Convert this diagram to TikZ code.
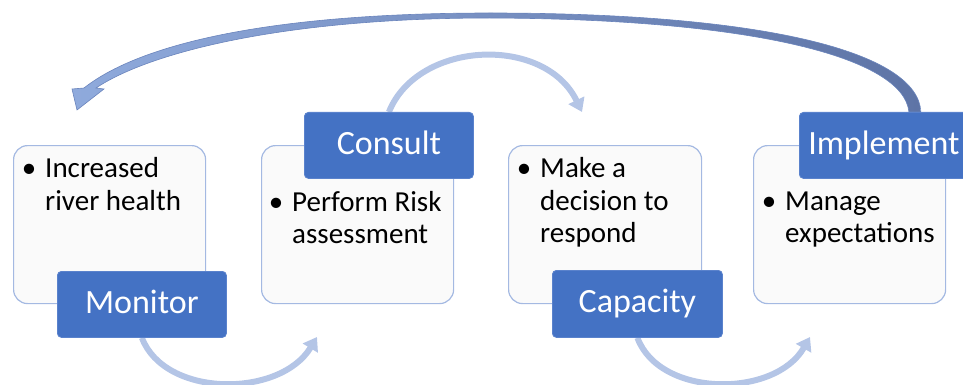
\documentclass[tikz,border=0pt]{standalone}
\usepackage{fontspec}
\setmainfont{Carlito}
\usetikzlibrary{arrows.meta}
\pgfdeclarelayer{background}
\pgfsetlayers{background,main}
\definecolor{tabblue}{HTML}{4472C4}
\definecolor{tabedge}{HTML}{5A82CC}
\definecolor{boxline}{HTML}{A4B9E2}
\definecolor{boxfill}{HTML}{FAFAFA}
\definecolor{arclight}{HTML}{B4C5E6}
\definecolor{bigleft}{HTML}{8FAADC}
\definecolor{bigright}{HTML}{5E74A6}
\definecolor{bigedge}{HTML}{6A84BC}
\begin{document}
\begin{tikzpicture}[x=1pt,y=-1pt,
  box/.style={draw=boxline, line width=1.2pt, fill=boxfill, rounded corners=14pt,
    anchor=north west, minimum width=192pt, minimum height=158pt, inner sep=0pt},
  tab/.style={draw=tabedge, line width=0.8pt, fill=tabblue, rounded corners=4pt,
    anchor=north west, minimum width=169pt, minimum height=66pt, inner sep=0pt,
    font=\fontsize{34}{40}\selectfont, text=white, text height=18pt, text depth=0pt},
  txt/.style={anchor=base west, inner sep=0pt, font=\fontsize{29}{33}\selectfont, text=black},
  bul/.style={anchor=base, inner sep=0pt, font=\fontsize{29}{33}\selectfont, text=black},
  arcarrow/.style={draw=arclight, line width=6pt,
    -{Triangle[width=17pt,length=13pt]}},
  bigarrow/.style={draw=bigedge, line width=0.6pt, left color=bigleft, right color=bigright}
]
\useasboundingbox (0,0) rectangle (963,385);

% boxes
\node[box] (box1) at (13,145) {};
\node[box] (box2) at (261,145) {};
\node[box, minimum width=193pt] (box3) at (508,145) {};
\node[box] (box4) at (753,145) {};

% tabs
\node[tab] (monitor) at (57,271) {Monitor};
\node[tab] (consult) at (304,112) {Consult};
\node[tab, minimum width=170pt, minimum height=67pt] (capacity) at (552,270) {Capacity};
\node[tab] (implement) at (799,112) {Implement};

% free ends of connectors
\coordinate (consultEnd) at (582,112);
\coordinate (monitorEnd) at (317,337);
\coordinate (capacityEnd) at (810,337);
\coordinate (bigTip) at (77,110);
\coordinate (bigStartOut) at ([xshift=37pt]implement.north);
\coordinate (bigStartIn) at ([xshift=25pt]implement.north);

\begin{pgfonlayer}{background}
% light arcs
\draw[arcarrow] (consult.north) .. controls (418,40) and (545,35) .. (consultEnd);
\draw[arcarrow] (monitor.south) .. controls (165,398) and (280,398) .. (monitorEnd);
\draw[arcarrow] (capacity.south) .. controls (660,398) and (775,398) .. (capacityEnd);
% big return arrow
\path[bigarrow] (bigStartOut) .. controls (918,52) and (765,13) .. (490,13)
   .. controls (285,13) and (145,40) .. (84,88)
   -- (72,89) -- (bigTip) -- (104,89) -- (96,88)
   .. controls (150,52) and (285,18) .. (490,18)
   .. controls (755,19) and (904,58) .. (bigStartIn) -- cycle;
\end{pgfonlayer}

% box texts
\node[bul] (bu1) at (29,177) {•};
\node[txt] (t1a) at (45,177) {Increased};
\node[txt] (t1b) at (45,210) {river health};

\node[bul] (bu2) at (276,211) {•};
\node[txt] (t2a) at (292,211) {Perform Risk};
\node[txt] (t2b) at (292,243) {assessment};

\node[bul] (bu3) at (524,177) {•};
\node[txt] (t3a) at (540,177) {Make a};
\node[txt] (t3b) at (540,210) {decision to};
\node[txt] (t3c) at (540,242) {respond};

\node[bul] (bu4) at (769,210) {•};
\node[txt] (t4a) at (785,210) {Manage};
\node[txt] (t4b) at (785,242) {expectations};
\end{tikzpicture}
\end{document}
